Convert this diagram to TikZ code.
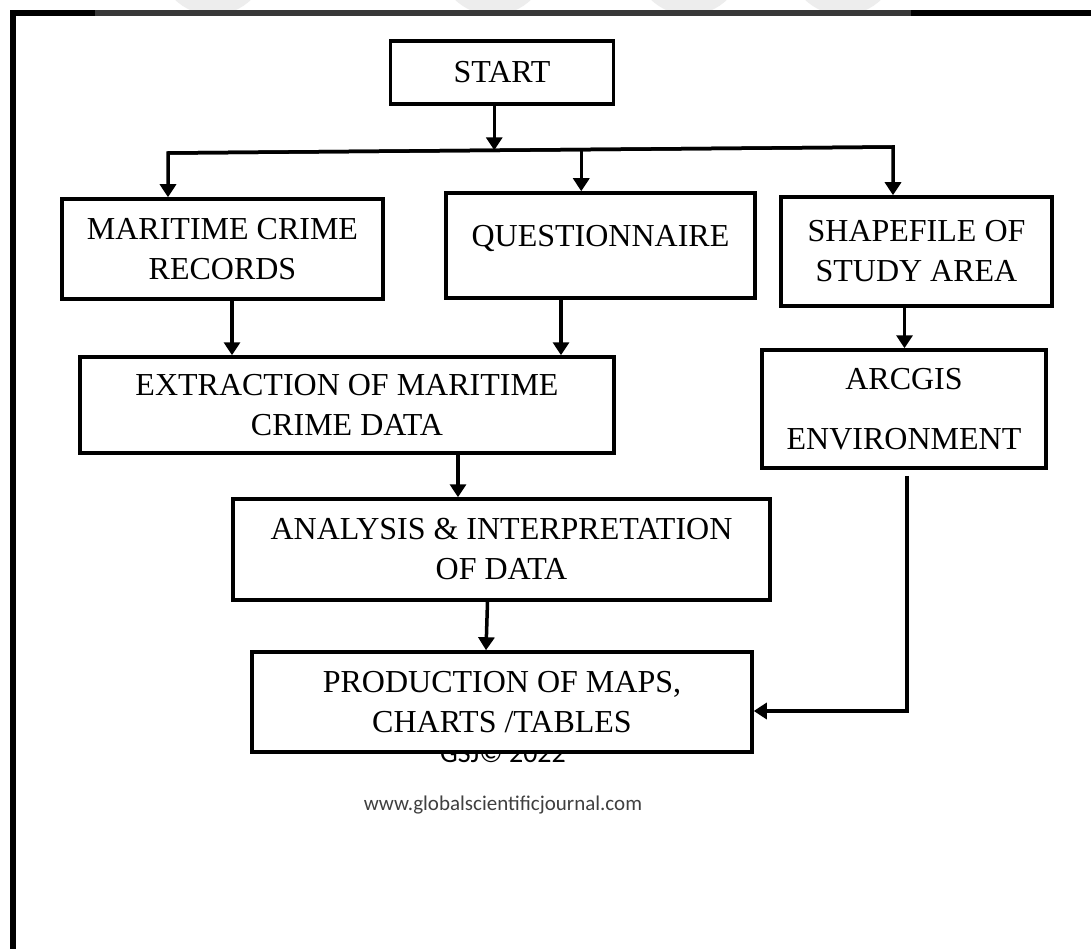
\documentclass[tikz,border=0pt]{standalone}
\usepackage{fontspec}
\setmainfont{Liberation Serif}
\newfontfamily\calibrifont{Carlito}
\usetikzlibrary{arrows.meta,calc}
\begin{document}
\begin{tikzpicture}[x=1pt,y=-1pt,
  box/.style={draw=black, line width=3.5pt, fill=white, inner sep=0pt, align=center,
              font=\fontsize{32}{40}\selectfont},
  arr/.style={line width=3.5pt, -{Triangle[width=16pt,length=13pt]}},
  conn/.style={line width=3.5pt}]
\useasboundingbox (0,0) rectangle (1091,949);
\fill[white] (0,0) rectangle (1091,949);
% faint watermark
\begin{scope}
  \clip (0,0) rectangle (1091,16);
  \foreach \cx in {213,493,689,843} \fill[black!7] (\cx,-40) circle (55);
\end{scope}
% page frame
\draw[line width=6pt] (13,949) -- (13,13) -- (1091,13);
\draw[line width=6pt, black!78] (95,13) -- (911,13);
% footer texts (partly hidden by last box)
\node[font=\calibrifont\fontsize{28}{34}\selectfont, anchor=base, inner sep=0pt] (gsj) at (503,762) {GSJ© 2022};
\node[font=\calibrifont\fontsize{21}{25}\selectfont, text=black!75, anchor=base, inner sep=0pt] (web) at (503,810) {www.globalscientificjournal.com};
% boxes
\node[box, minimum width=223pt, minimum height=63pt] (start) at (502,72.5) {START};
\node[box, minimum width=321pt, minimum height=100pt] (mcr) at (222.5,249) {MARITIME CRIME\\RECORDS};
\node[box, minimum width=309pt, minimum height=105pt, text height=21pt, text depth=18pt] (q) at (600.5,245.5) {QUESTIONNAIRE};
\node[box, minimum width=271pt, minimum height=109pt] (shp) at (916.5,251.5) {SHAPEFILE OF\\STUDY AREA};
\node[box, minimum width=534pt, minimum height=96pt] (ext) at (347,405) {EXTRACTION OF MARITIME\\CRIME DATA};
\node[box, minimum width=284pt, minimum height=118pt] (arc) at (904,409) {ARCGIS\\[20pt]ENVIRONMENT};
\node[box, minimum width=537pt, minimum height=101pt] (ana) at (501.5,549.5) {ANALYSIS \& INTERPRETATION\\OF DATA};
\node[box, minimum width=500pt, minimum height=100pt] (pro) at (502,702) {PRODUCTION OF MAPS,\\CHARTS /TABLES};
% distribution line
\coordinate (hl) at (168,153);
\coordinate (hr) at (893,147);
\coordinate (j1) at ($(hl)!0.45!(hr)$);
\coordinate (j2) at ($(hl)!0.57!(hr)$);
\draw[arr] (j1 |- start.south) -- (j1);
\draw[arr] (hr) -- (hl) -- (hl |- mcr.north);
\draw[arr] (hl) -- (hr) -- (hr |- shp.north);
\draw[arr] (j2) -- (j2 |- q.north);
% flow
\draw[arr] ([xshift=9.5pt]mcr.south) -- ([xshift=9.5pt]mcr.south |- ext.north);
\draw[arr] ([xshift=-39.5pt]q.south) -- ([xshift=-39.5pt]q.south |- ext.north);
\draw[arr] ([xshift=-12pt]shp.south) -- ([xshift=-12pt]shp.south |- arc.north);
\draw[arr] ([xshift=111pt]ext.south) -- ([xshift=111pt]ext.south |- ana.north);
\draw[arr] ([xshift=-14pt]ana.south) -- ([xshift=-16pt]pro.north);
\draw[arr] ([xshift=3pt,yshift=-6pt]arc.south) |- ([yshift=-9pt]pro.east);
\end{tikzpicture}
\end{document}
